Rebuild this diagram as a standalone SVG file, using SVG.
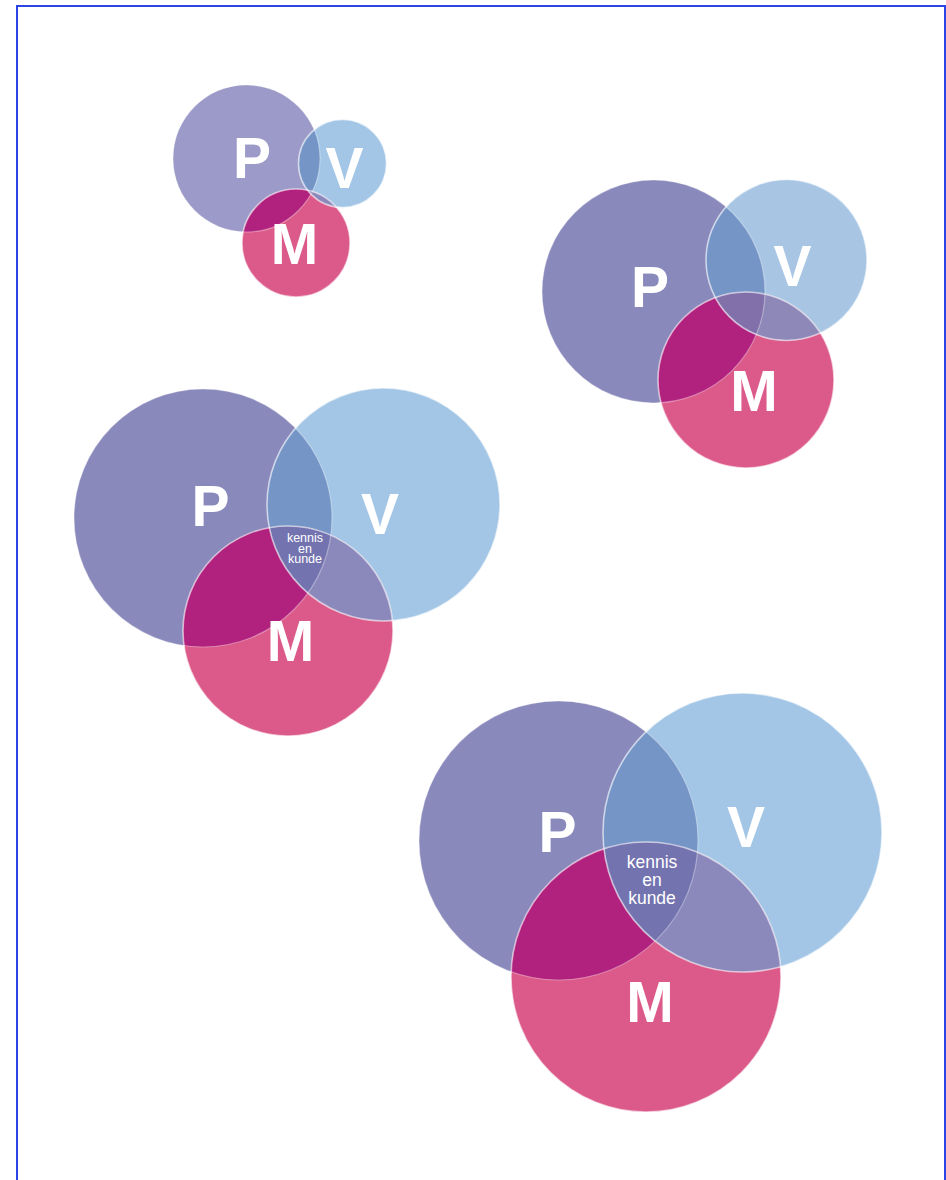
<svg xmlns="http://www.w3.org/2000/svg" width="946" height="1180" viewBox="0 0 946 1180">
<style>
.p{fill:#8a89bc}
.v{fill:#a3c6e6}
.m{fill:#dc5a89}
.pv{fill:#7595c7}
.pm{fill:#b1217e}
.vm{fill:#8b89bc}
.pvm{fill:#7373b0}
.ol{fill:none;stroke:#ffffff;stroke-width:1.6;stroke-opacity:0.6}
.olp{fill:none;stroke:#ffffff;stroke-width:1.2;stroke-opacity:0.35}
.lbl{font-family:"Liberation Sans",Arial,sans-serif;font-size:57px;font-weight:bold;fill:#ffffff;text-anchor:middle}
.kk{font-family:"Liberation Sans",Arial,sans-serif;fill:#ffffff;text-anchor:middle}
</style>
<defs>
<clipPath id="p1"><circle cx="246.5" cy="158.5" r="73.5"/></clipPath>
<clipPath id="v1"><circle cx="342.5" cy="163.5" r="44"/></clipPath>
<clipPath id="p2"><circle cx="653.5" cy="291.5" r="111.5"/></clipPath>
<clipPath id="v2"><circle cx="786.5" cy="260" r="80.5"/></clipPath>
<clipPath id="p3"><circle cx="203" cy="518" r="129"/></clipPath>
<clipPath id="v3"><circle cx="383.5" cy="504.5" r="116.5"/></clipPath>
<clipPath id="p4"><circle cx="558.5" cy="840.5" r="139.5"/></clipPath>
<clipPath id="v4"><circle cx="742.5" cy="832.5" r="139.5"/></clipPath>
</defs>
<rect x="17" y="6" width="928" height="1220" fill="none" stroke="#2a44e6" stroke-width="2"/>

<g id="diagram1">
  <g id="d1-P"><circle cx="246.5" cy="158.5" r="73.5" fill="#9c9ac8"/></g>
  <g id="d1-V"><circle class="v" cx="342.5" cy="163.5" r="44"/></g>
  <g id="d1-M"><circle class="m" cx="296" cy="243" r="54"/></g>
  <g id="d1-overlaps">
    <circle class="pv" cx="342.5" cy="163.5" r="44" clip-path="url(#p1)"/>
    <circle class="pm" cx="296" cy="243" r="54" clip-path="url(#p1)"/>
    <circle class="vm" cx="296" cy="243" r="54" clip-path="url(#v1)"/>
    <g clip-path="url(#p1)"><circle class="pvm" cx="296" cy="243" r="54" clip-path="url(#v1)"/></g>
  </g>
  <g id="d1-outlines">
    <circle class="olp" cx="246.5" cy="158.5" r="73.5"/>
    <circle class="ol" cx="342.5" cy="163.5" r="44"/>
    <circle class="ol" cx="296" cy="243" r="54"/>
  </g>
  <text class="lbl" x="252" y="178">P</text>
  <text class="lbl" x="344.5" y="188">V</text>
  <text class="lbl" x="294.5" y="264">M</text>
</g>

<g id="diagram2">
  <g id="d2-P"><circle class="p" cx="653.5" cy="291.5" r="111.5"/></g>
  <g id="d2-V"><circle cx="786.5" cy="260" r="80.5" fill="#a8c6e4"/></g>
  <g id="d2-M"><circle class="m" cx="746" cy="380" r="88"/></g>
  <g id="d2-overlaps">
    <circle class="pv" cx="786.5" cy="260" r="80.5" clip-path="url(#p2)"/>
    <circle class="pm" cx="746" cy="380" r="88" clip-path="url(#p2)"/>
    <circle cx="746" cy="380" r="88" fill="#8e88b9" clip-path="url(#v2)"/>
    <g clip-path="url(#p2)"><circle cx="746" cy="380" r="88" fill="#8270aa" clip-path="url(#v2)"/></g>
  </g>
  <g id="d2-outlines">
    <circle class="olp" cx="653.5" cy="291.5" r="111.5"/>
    <circle class="ol" cx="786.5" cy="260" r="80.5"/>
    <circle class="ol" cx="746" cy="380" r="88"/>
  </g>
  <text class="lbl" x="650" y="307">P</text>
  <text class="lbl" x="792.5" y="286">V</text>
  <text class="lbl" x="754" y="411">M</text>
</g>

<g id="diagram3">
  <g id="d3-P"><circle class="p" cx="203" cy="518" r="129"/></g>
  <g id="d3-V"><circle class="v" cx="383.5" cy="504.5" r="116.5"/></g>
  <g id="d3-M"><circle class="m" cx="288" cy="631" r="105"/></g>
  <g id="d3-overlaps">
    <circle class="pv" cx="383.5" cy="504.5" r="116.5" clip-path="url(#p3)"/>
    <circle class="pm" cx="288" cy="631" r="105" clip-path="url(#p3)"/>
    <circle class="vm" cx="288" cy="631" r="105" clip-path="url(#v3)"/>
    <g clip-path="url(#p3)"><circle class="pvm" cx="288" cy="631" r="105" clip-path="url(#v3)"/></g>
  </g>
  <g id="d3-outlines">
    <circle class="olp" cx="203" cy="518" r="129"/>
    <circle class="ol" cx="383.5" cy="504.5" r="116.5"/>
    <circle class="ol" cx="288" cy="631" r="105"/>
  </g>
  <text class="lbl" x="210.5" y="526">P</text>
  <text class="lbl" x="380" y="534">V</text>
  <text class="lbl" x="290.5" y="661">M</text>
  <g id="d3-kennis">
    <text class="kk" font-size="12.5" x="305" y="542">kennis</text>
    <text class="kk" font-size="12.5" x="305" y="553">en</text>
    <text class="kk" font-size="12.5" x="305" y="563">kunde</text>
  </g>
</g>

<g id="diagram4">
  <g id="d4-P"><circle class="p" cx="558.5" cy="840.5" r="139.5"/></g>
  <g id="d4-V"><circle class="v" cx="742.5" cy="832.5" r="139.5"/></g>
  <g id="d4-M"><circle class="m" cx="646" cy="977" r="135"/></g>
  <g id="d4-overlaps">
    <circle class="pv" cx="742.5" cy="832.5" r="139.5" clip-path="url(#p4)"/>
    <circle class="pm" cx="646" cy="977" r="135" clip-path="url(#p4)"/>
    <circle class="vm" cx="646" cy="977" r="135" clip-path="url(#v4)"/>
    <g clip-path="url(#p4)"><circle class="pvm" cx="646" cy="977" r="135" clip-path="url(#v4)"/></g>
  </g>
  <g id="d4-outlines">
    <circle class="olp" cx="558.5" cy="840.5" r="139.5"/>
    <circle class="ol" cx="742.5" cy="832.5" r="139.5"/>
    <circle class="ol" cx="646" cy="977" r="135"/>
  </g>
  <text class="lbl" x="557.5" y="852">P</text>
  <text class="lbl" x="746" y="847">V</text>
  <text class="lbl" x="650" y="1022">M</text>
  <g id="d4-kennis">
    <text class="kk" font-size="17.5" x="652" y="868">kennis</text>
    <text class="kk" font-size="17.5" x="652" y="885.5">en</text>
    <text class="kk" font-size="17.5" x="652" y="904">kunde</text>
  </g>
</g>
</svg>
